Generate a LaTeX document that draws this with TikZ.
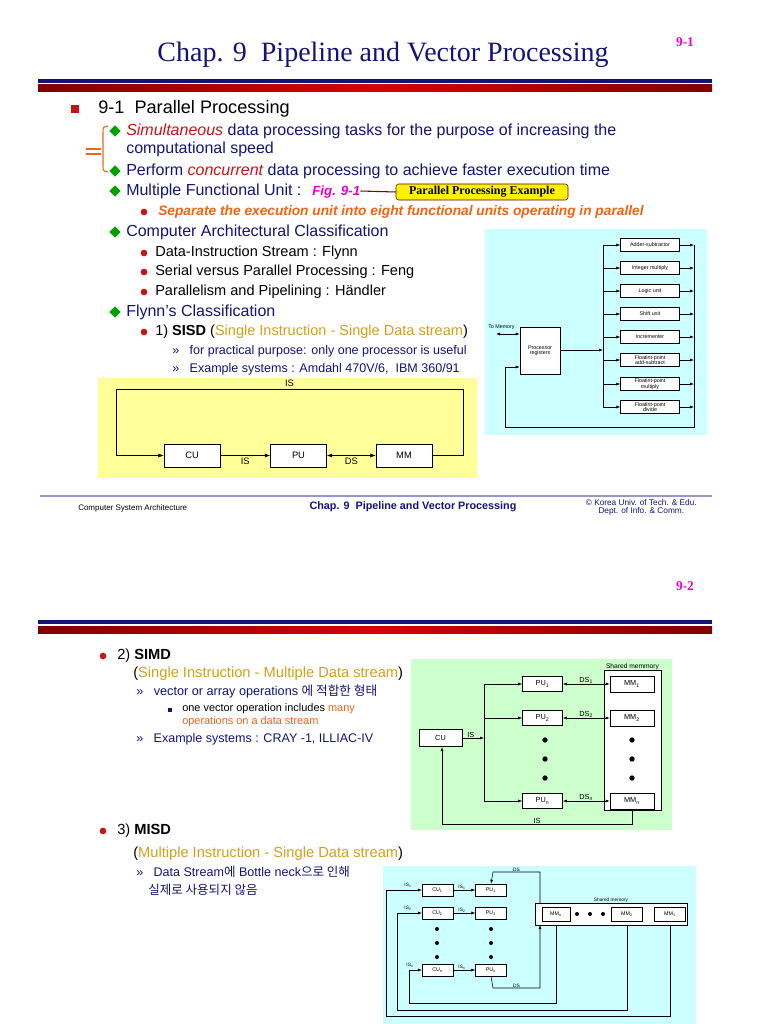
\documentclass[tikz,border=0pt]{standalone}
\usepackage{fontspec}
\setmainfont{Liberation Sans}
\newfontfamily\titlefont{Liberation Serif}
\newfontfamily\kr{Noto Sans CJK KR}
\usetikzlibrary{positioning}
\usetikzlibrary{calc}
\usetikzlibrary{arrows.meta}
\usetikzlibrary{shapes.geometric}
\newcommand\fsz[1]{\fontsize{#1}{#1}\selectfont}
\definecolor{navy}{RGB}{20,20,120}
\definecolor{redit}{RGB}{200,20,20}
\definecolor{magent}{RGB}{230,0,210}
\definecolor{orng}{RGB}{240,100,20}
\definecolor{gold}{RGB}{210,160,30}
\definecolor{dgreen}{RGB}{0,160,0}
\definecolor{bulletred}{RGB}{200,20,20}
\definecolor{cyanbg}{RGB}{204,255,255}
\definecolor{greenbg}{RGB}{204,255,204}
\definecolor{yellowbg}{RGB}{255,255,153}
\definecolor{linepurple}{RGB}{150,150,200}
\begin{document}
\begin{tikzpicture}[x=0.75pt,y=-0.75pt,
      txt/.style={anchor=west,inner sep=0pt,font=\fsz{12}},
      small/.style={anchor=west,inner sep=0pt,font=\fsz{10.9}},
      tiny/.style={anchor=west,inner sep=0pt,font=\fsz{9.4}},
      dmd/.style={diamond,fill=dgreen,inner sep=0pt,minimum size=8.5pt},
      dot/.style={circle,fill=bulletred,inner sep=0pt,minimum size=5pt},
      block/.style={draw,fill=white,inner sep=0pt,font=\fsz{7}},
      fblock/.style={draw,fill=white,inner sep=0pt,align=center,font=\fsz{4},minimum width=44pt,minimum height=10pt},
      mblock/.style={draw,fill=white,inner sep=0pt,font=\fsz{5.5},minimum width=30pt,minimum height=11pt},
      sblock/.style={draw,fill=white,inner sep=0pt,font=\fsz{4},minimum width=23pt,minimum height=9pt},
      lbl/.style={inner sep=0pt,font=\fsz{5.5}},
      arr/.style={-{Latex[length=4pt,width=3pt]}},
      darr/.style={{Latex[length=4pt,width=3pt]}-{Latex[length=4pt,width=3pt]}},
      sarr/.style={-{Latex[length=3pt,width=2.2pt]}},
      sdarr/.style={{Latex[length=3pt,width=2.2pt]}-{Latex[length=3pt,width=2.2pt]}}]
  \useasboundingbox[fill=white] (0,0) rectangle (768,1024);

  % ---------- page 9-1 header
  \node[inner sep=0pt,text=navy,font=\titlefont\fsz{21}] (title1) at (383,55) {Chap. 9\ \ Pipeline and Vector Processing};
  \node[inner sep=0pt,text=magent,font=\titlefont\bfseries\fsz{10}] (num1) at (685,42) {9-1};
  \fill[navy] (38,79) rectangle (712,83);
  \shade[left color=red!50!black,right color=red!50!black,middle color=red!85!black] (38,85) rectangle (712,92);

  % ---------- page 9-1 text
  \node[rectangle,fill=bulletred,inner sep=0pt,minimum size=6pt] (sq1) at (75,109) {};
  \node[txt,font=\fsz{13.6}] (t91) at (98,109) {9-1\ \ Parallel Processing};
  \node[dmd] (d1) at (115,131) {};
  \node[txt,text=navy] (l1) at (126,131) {\textcolor{redit}{\itshape Simultaneous} data processing tasks for the purpose of increasing the};
  \node[txt,text=navy] (l2) at (126,149) {computational speed};
  \node[dmd] (d2) at (115,171) {};
  \node[txt,text=navy] (l3) at (126,171) {Perform \textcolor{redit}{\itshape concurrent} data processing to achieve faster execution time};
  \node[dmd] (d3) at (115,191) {};
  \node[txt,text=navy] (l4) at (126,191) {Multiple Functional Unit : \textcolor{magent}{\bfseries\itshape\fsz{10} Fig. 9-1}};
  \node[draw=red!40!black,fill=yellow,rounded corners=2pt,minimum width=129pt,minimum height=12pt,inner sep=0pt,font=\titlefont\bfseries\fsz{9}] (call) at (482,192) {Parallel Processing Example};
  \draw[red!50!black,thick] (l4.east) -- (call.west);
  \node[dot] (b1) at (144,212) {};
  \node[txt,text=orng,font=\bfseries\itshape\fsz{10.3}] (l5) at (158,212) {Separate the execution unit into eight functional units operating in parallel};
  \node[dmd] (d4) at (115,232) {};
  \node[txt,text=navy] (l6) at (126,232) {Computer Architectural Classification};
  \node[dot] (b2) at (144,253) {};
  \node[small] (l7) at (155,253) {Data-Instruction Stream : Flynn};
  \node[dot] (b3) at (144,272) {};
  \node[small] (l8) at (155,272) {Serial versus Parallel Processing : Feng};
  \node[dot] (b4) at (144,292) {};
  \node[small] (l9) at (155,292) {Parallelism and Pipelining : Händler};
  \node[dmd] (d5) at (115,312) {};
  \node[txt,text=navy] (l10) at (126,312) {Flynn’s Classification};
  \node[dot] (b5) at (144,332) {};
  \node[small] (l11) at (155,332) {1) \textbf{SISD} (\textcolor{gold}{Single Instruction - Single Data stream})};
  \node[tiny,text=navy] (l12) at (172,351) {»\ \ \ for practical purpose: only one processor is useful};
  \node[tiny,text=navy] (l13) at (172,369) {»\ \ \ Example systems : Amdahl 470V/6,\ \ IBM 360/91};

  % orange brace
  \draw[orng,thick] (108,126) .. controls (103,127) .. (103,133) -- (103,165) .. controls (103,171) .. (108,172);
  \draw[orng,thick] (86,149) -- (101,149) (86,154) -- (101,154);

  % ---------- SISD
  \fill[yellowbg] (98,378) rectangle (477,478);
  \node[block,minimum width=42pt,minimum height=17pt] (cu) at (192,455.5) {CU};
  \node[block,minimum width=42pt,minimum height=17pt] (pu) at (298.5,455.5) {PU};
  \node[block,minimum width=42pt,minimum height=17pt] (mm) at (404,455.5) {MM};
  \draw[arr] (cu) -- node[below=2pt,lbl,font=\fsz{7}] {IS} (pu);
  \draw[darr] (pu) -- node[below=2pt,lbl,font=\fsz{7}] {DS} (mm);
  \draw[arr] (mm.east) -- (463,455.5) -- (463,389) -- node[above=1.5pt,lbl,font=\fsz{7}] {IS} (116,389) -- (116,455.5) -- (cu.west);

  % ---------- multiple functional units
  \fill[cyanbg] (485,229) rectangle (707,435);
  \foreach \name/\ypos [count=\i] in {Adder-subtractor/245,Integer multiply/268,Logic unit/291,Shift unit/314,Incrementer/337,
      Floatint-point\\add-subtract/360,Floatint-point\\multiply/384,Floatint-point\\divide/407}{
    \node[fblock] (fu\i) at (650,\ypos) {\name};
    \draw[sarr] (603,\ypos) -- (fu\i.west);
    \draw[sarr] (fu\i.east) -- (694,\ypos);
  }
  \node[draw,fill=white,inner sep=0pt,align=center,font=\fsz{4},minimum width=30pt,minimum height=35pt] (proc) at (540,350.5) {Processor\\registers};
  \draw (603,245) -- (603,407);
  \draw[sarr] (proc.east |- 0,350) -- (603,350);
  \draw (694,245) -- (694,427) -- (505,427) -- (505,367);
  \draw[sarr] (505,367) -- (proc.west |- 0,367);
  \coordinate (mem) at (496,334);
  \draw[sdarr] (mem) -- (proc.west |- mem);
  \node[lbl,font=\fsz{4},anchor=south west] (tomem) at (488,330) {To Memory};

  % ---------- footer
  \draw[linepurple,line width=1pt] (40,496) -- (712,496);
  \node[anchor=west,inner sep=0pt,font=\fsz{6}] (f1) at (78,508) {Computer System Architecture};
  \node[inner sep=0pt,font=\bfseries\fsz{8.1},text=navy] (f2) at (413,507) {Chap. 9\ \ Pipeline and Vector Processing};
  \node[anchor=east,inner sep=0pt,align=center,font=\fsz{6.2},text=navy] (f3) at (697,507.5) {© Korea Univ. of Tech. \& Edu.\\Dept. of Info. \& Comm.};

  % ---------- page 9-2 header
  \node[inner sep=0pt,text=magent,font=\titlefont\bfseries\fsz{10}] (num2) at (685,586) {9-2};
  \fill[navy] (38,620) rectangle (712,624);
  \shade[left color=red!50!black,right color=red!50!black,middle color=red!85!black] (38,626) rectangle (712,633);

  % ---------- page 9-2 text
  \node[dot] (b6) at (103,656) {};
  \node[small,font=\fsz{11}] (s1) at (117,656) {2) \textbf{SIMD}};
  \node[small,font=\fsz{11}] (s2) at (133,674) {(\textcolor{gold}{Single Instruction - Multiple Data stream})};
  \node[tiny,text=navy,font=\fsz{9.5}] (s3) at (136,692) {»\ \ \ vector or array operations {\kr 에 적합한 형태}};
  \node[rectangle,fill=navy,inner sep=0pt,minimum size=3.5pt] (sq2) at (170,710) {};
  \node[tiny,font=\fsz{8.2}] (s4) at (182,709) {one vector operation includes \textcolor{orng}{many}};
  \node[tiny,font=\fsz{8.2},text=orng] (s5) at (182,722) {operations on a data stream};
  \node[tiny,text=navy,font=\fsz{9.4}] (s6) at (136,739) {»\ \ \ Example systems : CRAY -1, ILLIAC-IV};

  \node[dot] (b7) at (103,831) {};
  \node[small,font=\fsz{11}] (m1) at (117,831) {3) \textbf{MISD}};
  \node[small,font=\fsz{11}] (m2) at (133,854) {(\textcolor{gold}{Multiple Instruction - Single Data stream})};
  \node[tiny,text=navy,font=\fsz{9.4}] (m3) at (136,872) {»\ \ \ Data Stream{\kr 에} Bottle neck{\kr 으로 인해}};
  \node[tiny,text=navy,font=\kr\fsz{9.4}] (m4) at (148,890) {실제로 사용되지 않음};

  % ---------- SIMD
  \fill[greenbg] (411,659) rectangle (672,830);
  \node[draw,fill=white,minimum width=43pt,minimum height=105pt,inner sep=0pt] (shm) at (632.5,740.5) {};
  \node[lbl,anchor=south,font=\fsz{5}] (shml) at (shm.north) {Shared memmory};
  \foreach \k/\ypos in {1/684,2/718,n/801}{
    \node[mblock] (pu\k) at (542.5,\ypos) {PU\textsubscript{\k}};
    \node[mblock,minimum width=33pt,minimum height=12pt] (mm\k) at (632,\ypos) {MM\textsubscript{\k}};
    \draw[sdarr] (pu\k) -- node[above,lbl] {DS\textsubscript{\k}} (mm\k);
    \draw[sarr] (484,\ypos) -- (pu\k);
  }
  \foreach \ypos in {740,759,778}{
    \fill (545,\ypos) circle (2pt);
    \fill (632,\ypos) circle (2pt);
  }
  \node[mblock,minimum width=32pt,minimum height=13pt] (cus) at (440.5,738) {CU};
  \draw (484,684) -- (484,801);
  \draw[sarr] (cus) -- node[above,lbl,pos=0.4] {IS} (484,738);
  \draw[sarr] (mmn.south |- shm.south) -- (632,824) -- node[above,lbl] {IS} (442,824) -- (442,747);

  % ---------- MISD
  \fill[cyanbg] (383,866) rectangle (696,1024);
  \foreach \k/\ypos in {1/890,2/913,n/970}{
    \node[sblock] (cum\k) at (437.5,\ypos) {CU\textsubscript{\k}};
    \node[sblock] (pum\k) at (491,\ypos) {PU\textsubscript{\k}};
    \draw[sarr] (cum\k) -- node[above,lbl,font=\fsz{3.6},pos=0.4] {IS\textsubscript{\k}} (pum\k);
  }
  \foreach \ypos in {929,943,957}{
    \fill (437,\ypos) circle (1.5pt);
    \fill (491,\ypos) circle (1.5pt);
  }
  \node[draw,fill=white,minimum width=114pt,minimum height=16.5pt,inner sep=0pt] (shmm) at (611,914) {};
  \node[lbl,anchor=south,font=\fsz{3.6}] (shmml) at (shmm.north) {Shared memory};
  \node[sblock,minimum width=21pt,minimum height=10.5pt] (mmmn) at (556,914) {MM\textsubscript{n}};
  \node[sblock,minimum width=23pt,minimum height=10.5pt] (mmm2) at (627,914) {MM\textsubscript{2}};
  \node[sblock,minimum width=23pt,minimum height=10.5pt] (mmm1) at (670,914) {MM\textsubscript{1}};
  \foreach \xpos in {577,590,603}{ \fill (\xpos,914) circle (1.5pt); }
  \draw[sarr] (540,903) -- (540,872) -- node[above,lbl,font=\fsz{3.6}] {DS} (493,872) -- (pum1.north);
  \draw[sarr] (pumn.south) -- (493,988) -- node[above,lbl,font=\fsz{3.6}] {DS} (540,988) -- (540,925);
  \draw[sarr] (mmmn.south |- shmm.south) -- (556,1003) -- (409,1003) -- (409,970) -- (cumn.west);
  \draw[sarr] (mmm2.south |- shmm.south) -- (627,1010) -- (397,1010) -- (397,913) -- (cum2.west);
  \draw[sarr] (mmm1.south |- shmm.south) -- (670,1016) -- (386,1016) -- (386,890) -- (cum1.west);
  \node[lbl,font=\fsz{3.6}] (is1) at (408,885) {IS\textsubscript{1}};
  \node[lbl,font=\fsz{3.6}] (is2) at (408,908) {IS\textsubscript{2}};
  \node[lbl,font=\fsz{3.6}] (isn) at (410,965) {IS\textsubscript{n}};
\end{tikzpicture}
\end{document}
